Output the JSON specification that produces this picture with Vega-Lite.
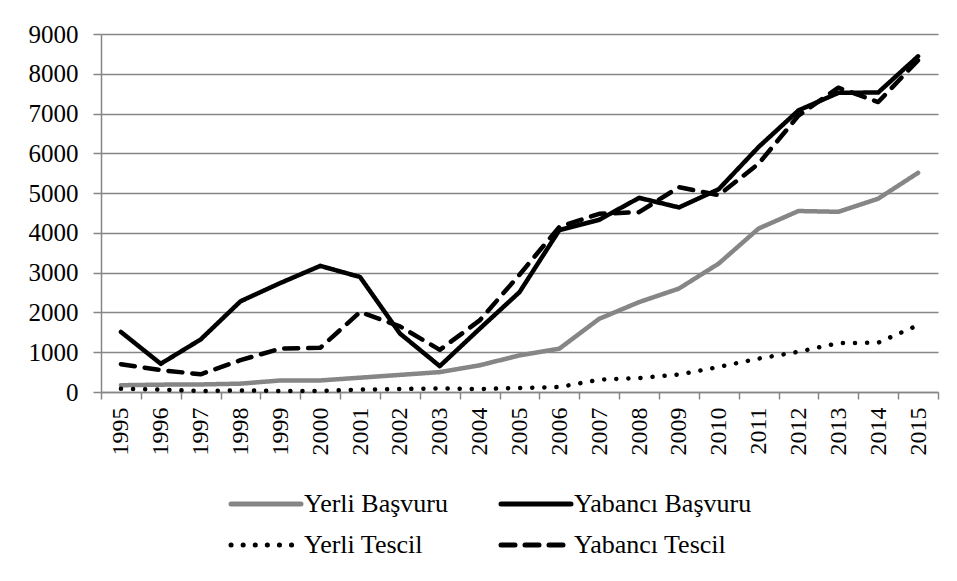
{
  "$schema": "https://vega.github.io/schema/vega-lite/v6.json",
  "width": 837,
  "height": 358,
  "autosize": {"type": "none"},
  "padding": {"left": 101, "top": 34, "right": 19, "bottom": 189},
  "background": "white",
  "config": {
    "font": "Liberation Serif, Times New Roman, serif",
    "view": {"stroke": null},
    "axis": {"labelFont": "Liberation Serif, Times New Roman, serif", "labelColor": "#000000"},
    "legend": {"labelFont": "Liberation Serif, Times New Roman, serif"}
  },
  "data": {
    "values": [
      {"year": "1995", "series": "Yerli Başvuru", "value": 170},
      {"year": "1996", "series": "Yerli Başvuru", "value": 185},
      {"year": "1997", "series": "Yerli Başvuru", "value": 190},
      {"year": "1998", "series": "Yerli Başvuru", "value": 210},
      {"year": "1999", "series": "Yerli Başvuru", "value": 290},
      {"year": "2000", "series": "Yerli Başvuru", "value": 290},
      {"year": "2001", "series": "Yerli Başvuru", "value": 360},
      {"year": "2002", "series": "Yerli Başvuru", "value": 430},
      {"year": "2003", "series": "Yerli Başvuru", "value": 500},
      {"year": "2004", "series": "Yerli Başvuru", "value": 670},
      {"year": "2005", "series": "Yerli Başvuru", "value": 920},
      {"year": "2006", "series": "Yerli Başvuru", "value": 1090},
      {"year": "2007", "series": "Yerli Başvuru", "value": 1840},
      {"year": "2008", "series": "Yerli Başvuru", "value": 2260},
      {"year": "2009", "series": "Yerli Başvuru", "value": 2600},
      {"year": "2010", "series": "Yerli Başvuru", "value": 3230},
      {"year": "2011", "series": "Yerli Başvuru", "value": 4110},
      {"year": "2012", "series": "Yerli Başvuru", "value": 4550},
      {"year": "2013", "series": "Yerli Başvuru", "value": 4530},
      {"year": "2014", "series": "Yerli Başvuru", "value": 4860},
      {"year": "2015", "series": "Yerli Başvuru", "value": 5510},
      {"year": "1995", "series": "Yabancı Başvuru", "value": 1510},
      {"year": "1996", "series": "Yabancı Başvuru", "value": 710},
      {"year": "1997", "series": "Yabancı Başvuru", "value": 1320},
      {"year": "1998", "series": "Yabancı Başvuru", "value": 2280},
      {"year": "1999", "series": "Yabancı Başvuru", "value": 2740},
      {"year": "2000", "series": "Yabancı Başvuru", "value": 3170},
      {"year": "2001", "series": "Yabancı Başvuru", "value": 2890},
      {"year": "2002", "series": "Yabancı Başvuru", "value": 1470},
      {"year": "2003", "series": "Yabancı Başvuru", "value": 650},
      {"year": "2004", "series": "Yabancı Başvuru", "value": 1590},
      {"year": "2005", "series": "Yabancı Başvuru", "value": 2510},
      {"year": "2006", "series": "Yabancı Başvuru", "value": 4070},
      {"year": "2007", "series": "Yabancı Başvuru", "value": 4330},
      {"year": "2008", "series": "Yabancı Başvuru", "value": 4880},
      {"year": "2009", "series": "Yabancı Başvuru", "value": 4640},
      {"year": "2010", "series": "Yabancı Başvuru", "value": 5100},
      {"year": "2011", "series": "Yabancı Başvuru", "value": 6160},
      {"year": "2012", "series": "Yabancı Başvuru", "value": 7080},
      {"year": "2013", "series": "Yabancı Başvuru", "value": 7520},
      {"year": "2014", "series": "Yabancı Başvuru", "value": 7530},
      {"year": "2015", "series": "Yabancı Başvuru", "value": 8440},
      {"year": "1995", "series": "Yerli Tescil", "value": 80},
      {"year": "1996", "series": "Yerli Tescil", "value": 60},
      {"year": "1997", "series": "Yerli Tescil", "value": 25},
      {"year": "1998", "series": "Yerli Tescil", "value": 40},
      {"year": "1999", "series": "Yerli Tescil", "value": 25},
      {"year": "2000", "series": "Yerli Tescil", "value": 25},
      {"year": "2001", "series": "Yerli Tescil", "value": 60},
      {"year": "2002", "series": "Yerli Tescil", "value": 75},
      {"year": "2003", "series": "Yerli Tescil", "value": 90},
      {"year": "2004", "series": "Yerli Tescil", "value": 75},
      {"year": "2005", "series": "Yerli Tescil", "value": 100},
      {"year": "2006", "series": "Yerli Tescil", "value": 125},
      {"year": "2007", "series": "Yerli Tescil", "value": 310},
      {"year": "2008", "series": "Yerli Tescil", "value": 350},
      {"year": "2009", "series": "Yerli Tescil", "value": 440},
      {"year": "2010", "series": "Yerli Tescil", "value": 630},
      {"year": "2011", "series": "Yerli Tescil", "value": 840},
      {"year": "2012", "series": "Yerli Tescil", "value": 1010},
      {"year": "2013", "series": "Yerli Tescil", "value": 1230},
      {"year": "2014", "series": "Yerli Tescil", "value": 1240},
      {"year": "2015", "series": "Yerli Tescil", "value": 1680},
      {"year": "1995", "series": "Yabancı Tescil", "value": 700},
      {"year": "1996", "series": "Yabancı Tescil", "value": 550},
      {"year": "1997", "series": "Yabancı Tescil", "value": 445},
      {"year": "1998", "series": "Yabancı Tescil", "value": 800},
      {"year": "1999", "series": "Yabancı Tescil", "value": 1090},
      {"year": "2000", "series": "Yabancı Tescil", "value": 1110},
      {"year": "2001", "series": "Yabancı Tescil", "value": 2010},
      {"year": "2002", "series": "Yabancı Tescil", "value": 1650},
      {"year": "2003", "series": "Yabancı Tescil", "value": 1060},
      {"year": "2004", "series": "Yabancı Tescil", "value": 1800},
      {"year": "2005", "series": "Yabancı Tescil", "value": 2950},
      {"year": "2006", "series": "Yabancı Tescil", "value": 4150},
      {"year": "2007", "series": "Yabancı Tescil", "value": 4480},
      {"year": "2008", "series": "Yabancı Tescil", "value": 4520},
      {"year": "2009", "series": "Yabancı Tescil", "value": 5150},
      {"year": "2010", "series": "Yabancı Tescil", "value": 4950},
      {"year": "2011", "series": "Yabancı Tescil", "value": 5740},
      {"year": "2012", "series": "Yabancı Tescil", "value": 6950},
      {"year": "2013", "series": "Yabancı Tescil", "value": 7650},
      {"year": "2014", "series": "Yabancı Tescil", "value": 7290},
      {"year": "2015", "series": "Yabancı Tescil", "value": 8340}
    ]
  },
  "mark": {"type": "line", "strokeWidth": 4.5, "strokeCap": "round", "strokeJoin": "round"},
  "encoding": {
    "x": {
      "field": "year",
      "type": "ordinal",
      "scale": {"type": "band", "paddingInner": 0, "paddingOuter": 0},
      "axis": {
        "title": null,
        "labelAngle": -90,
        "labelAlign": "right",
        "labelBaseline": "middle",
        "labelFontSize": 24,
        "labelPadding": 8,
        "tickBand": "extent",
        "tickSize": 7,
        "tickColor": "#868686",
        "tickWidth": 1.5,
        "domainColor": "#868686",
        "domainWidth": 1.5,
        "grid": false
      }
    },
    "y": {
      "field": "value",
      "type": "quantitative",
      "scale": {"domain": [0, 9000], "nice": false},
      "axis": {
        "title": null,
        "format": "d",
        "values": [0, 1000, 2000, 3000, 4000, 5000, 6000, 7000, 8000, 9000],
        "labelFontSize": 25,
        "labelPadding": 15,
        "tickSize": 8,
        "tickColor": "#868686",
        "tickWidth": 1.5,
        "domainColor": "#868686",
        "domainWidth": 1.5,
        "grid": true,
        "gridColor": "#868686",
        "gridWidth": 1.5
      }
    },
    "color": {
      "field": "series",
      "type": "nominal",
      "scale": {
        "domain": ["Yerli Başvuru", "Yabancı Başvuru", "Yerli Tescil", "Yabancı Tescil"],
        "range": ["#868686", "#000000", "#000000", "#000000"]
      },
      "legend": {
        "title": null,
        "orient": "none",
        "legendX": 145,
        "legendY": 450,
        "direction": "horizontal",
        "columns": 2,
        "columnPadding": 43,
        "rowPadding": 8,
        "labelFont": "Liberation Serif",
        "labelFontSize": 26,
        "labelColor": "#000000",
        "labelOffset": 18,
        "symbolType": "M-2,0H2",
        "symbolSize": 1225,
        "symbolStrokeWidth": 5,
        "labelLimit": 400,
        "encode": {"symbols": {"update": {"strokeCap": {"value": "round"}}}}
      }
    },
    "strokeDash": {
      "field": "series",
      "type": "nominal",
      "scale": {
        "domain": ["Yerli Başvuru", "Yabancı Başvuru", "Yerli Tescil", "Yabancı Tescil"],
        "range": [[1, 0], [1, 0], [0.1, 12], [14, 10]]
      },
      "legend": {
        "title": null,
        "orient": "none",
        "legendX": 145,
        "legendY": 450,
        "direction": "horizontal",
        "columns": 2,
        "columnPadding": 43,
        "rowPadding": 8,
        "labelFont": "Liberation Serif",
        "labelFontSize": 26,
        "labelColor": "#000000",
        "labelOffset": 18,
        "symbolType": "M-2,0H2",
        "symbolSize": 1225,
        "symbolStrokeWidth": 5,
        "labelLimit": 400,
        "encode": {"symbols": {"update": {"strokeCap": {"value": "round"}}}}
      }
    }
  }
}
